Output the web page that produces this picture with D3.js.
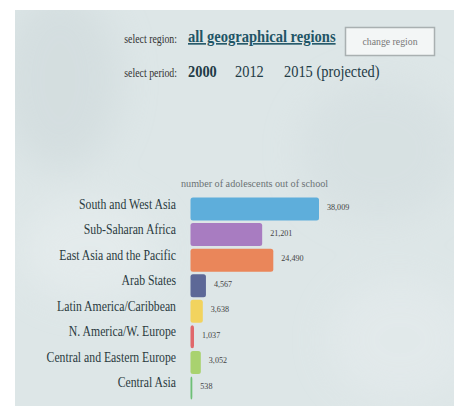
<!DOCTYPE html>
<html>
<head>
<meta charset="utf-8">
<script src="https://cdn.jsdelivr.net/npm/d3@7"></script>
<style>
  html, body { margin: 0; padding: 0; background: #ffffff; }
  svg { display: block; }
  text { font-family: "Liberation Serif", "Times New Roman", serif; }
</style>
</head>
<body>
<svg id="chart" width="454" height="407"></svg>
<script>
// Adolescents out of school (thousands), by region
const regions = [
  "South and West Asia",
  "Sub-Saharan Africa",
  "East Asia and the Pacific",
  "Arab States",
  "Latin America/Caribbean",
  "N. America/W. Europe",
  "Central and Eastern Europe",
  "Central Asia"
];
const outOfSchool = [38009, 21201, 24490, 4567, 3638, 1037, 3052, 538];
const regionColors = ["#5eaedb", "#a87cc1", "#ea865a", "#5d6897", "#f2d35e", "#e0686b", "#a9d26f", "#6dbf76"];
const periods = ["2000", "2012", "2015 (projected)"];
const selectedPeriod = "2000";
const selectedRegion = "all geographical regions";

const svg = d3.select("#chart");

// place a narrow (horizontally condensed) text label
function label(parent, x, y, str, size, sx) {
  return parent.append("text")
    .attr("transform", `translate(${x},${y}) scale(${sx},1)`)
    .attr("font-size", size)
    .text(str);
}

// panel background
const defs = svg.append("defs");
const blur = defs.append("filter").attr("id", "soft").attr("x", "-50%").attr("y", "-50%").attr("width", "200%").attr("height", "200%");
blur.append("feGaussianBlur").attr("stdDeviation", 18);
const clip = defs.append("clipPath").attr("id", "panelClip");
clip.append("rect").attr("x", 15).attr("y", 10).attr("width", 439).attr("height", 396);

const panel = svg.append("g").attr("clip-path", "url(#panelClip)");
panel.append("rect").attr("x", 15).attr("y", 10).attr("width", 439).attr("height", 396).attr("fill", "#dde6e7");
const haze = panel.append("g").attr("filter", "url(#soft)").attr("opacity", 0.55);
haze.append("ellipse").attr("cx", 60).attr("cy", 80).attr("rx", 60).attr("ry", 90).attr("fill", "#cdd8da");
haze.append("ellipse").attr("cx", 380).attr("cy", 150).attr("rx", 80).attr("ry", 70).attr("fill", "#d3dddf");
haze.append("ellipse").attr("cx", 90).attr("cy", 250).attr("rx", 70).attr("ry", 50).attr("fill", "#e9eff0");
haze.append("ellipse").attr("cx", 400).attr("cy", 340).attr("rx", 70).attr("ry", 60).attr("fill", "#e6ecee");

// header controls
const header = svg.append("g");
label(header, 177, 43, "select region:", 12, 0.82).attr("text-anchor", "end").attr("fill", "#333");
label(header, 188, 42, selectedRegion, 16, 0.91)
  .attr("font-weight", "bold").attr("fill", "#1f5566")
  .attr("text-decoration", "underline");
header.append("rect").attr("x", 345.5).attr("y", 27.5).attr("width", 89).attr("height", 28)
  .attr("fill", "#f3f6f6").attr("stroke", "#a9b0b1").attr("stroke-width", 1.5);
label(header, 390, 45, "change region", 11, 0.89).attr("text-anchor", "middle").attr("fill", "#777");

label(header, 177, 77, "select period:", 12, 0.82).attr("text-anchor", "end").attr("fill", "#333");
const periodX = [188, 235, 284];
periods.forEach((p, i) => {
  label(header, periodX[i], 77, p, 16, 0.9)
    .attr("font-weight", p === selectedPeriod ? "bold" : "normal")
    .attr("fill", "#1f3b46");
});

// bar chart
const data = regions.map((r, i) => ({ region: r, value: outOfSchool[i], color: regionColors[i] }));
const x0 = 190.5;
const x = d3.scaleLinear().domain([0, 38009]).range([0, 128.5]);
const y = d3.scaleBand().domain(regions).range([197, 400]).paddingInner(0.1).paddingOuter(0.02);

label(svg, 181, 187, "number of adolescents out of school", 10.5, 0.97).attr("fill", "#6b7274");

const chart = svg.append("g").attr("transform", `translate(${x0},0)`);
chart.selectAll("rect.bar").data(data).join("rect")
  .attr("class", "bar")
  .attr("x", 0).attr("y", d => y(d.region))
  .attr("width", d => Math.max(1.5, x(d.value))).attr("height", y.bandwidth())
  .attr("rx", 2.5).attr("fill", d => d.color);

chart.selectAll("text.val").data(data).join("text")
  .attr("class", "val")
  .attr("transform", d => `translate(${x(d.value) + 8},${y(d.region) + 12.5}) scale(0.9,1)`)
  .attr("font-size", 9).attr("fill", "#444")
  .text(d => d3.format(",")(d.value));

svg.append("g").selectAll("text").data(data).join("text")
  .attr("transform", d => `translate(176,${y(d.region) + 11}) scale(0.84,1)`)
  .attr("text-anchor", "end").attr("font-size", 14).attr("fill", "#2a3a40")
  .text(d => d.region);
</script>
</body>
</html>
